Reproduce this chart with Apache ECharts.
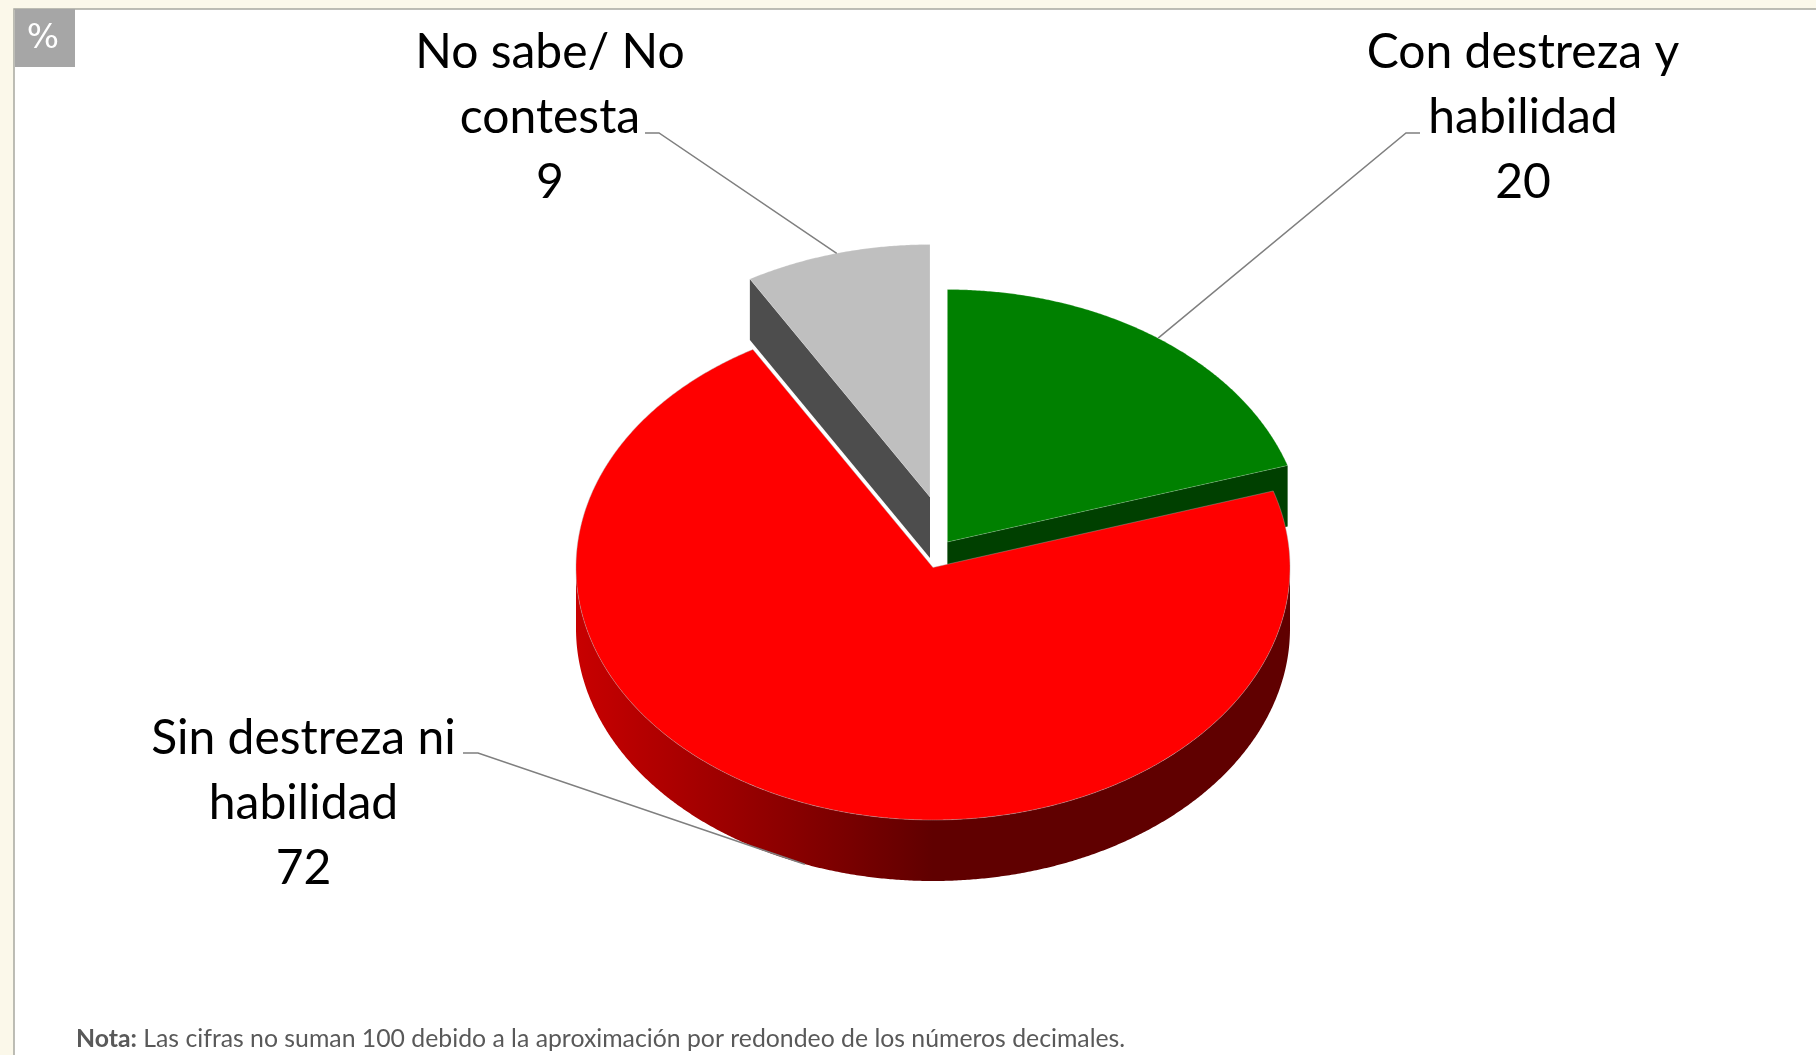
<!DOCTYPE html>
<html><head><meta charset="utf-8">
<style>html,body{margin:0;padding:0;background:#fbf8ea}#c{width:1816px;height:1055px}</style>
<script src="https://cdn.jsdelivr.net/npm/echarts@6/dist/echarts.min.js"></script>
</head><body><div id="c"></div>
<script>
const categories = ['Con destreza y\nhabilidad', 'Sin destreza ni\nhabilidad', 'No sabe/ No\ncontesta'];
// slice sizes; the labels show them rounded (20, 72, 9)
const values = [20.3, 72.2, 8.5];
const noteLead = 'Nota:';
const noteBody = ' Las cifras no suman 100 debido a la aproximación por redondeo de los números decimales.';
const unitTag = '%';

const topColors = ['#008000', '#ff0000', '#bfbfbf'];
const sideColors = ['#004000', '#600000', '#4d4d4d'];
const centers = [[947.4, 542], [933, 567.5], [930, 497]];
const stackOrder = [2, 3, 1];
const labelPos = [[1523, 118], [303.5, 804], [550, 118]];
const elbows = [[[1420, 133], [1406, 133]], [[463, 753], [478, 753]], [[645, 133], [659, 133]]];
const RX = 357, RY = 252.5, DEPTH = 61;
const LABEL_FONT = 'Lato, Carlito, sans-serif';

const total = values.reduce((a, b) => a + b, 0);
const startOf = i => values.slice(0, i).reduce((a, b) => a + b, 0) / total * 2 * Math.PI;
const pt = (c, a, dy) => [c[0] + RX * Math.sin(a), c[1] - RY * Math.cos(a) + (dy || 0)];
const arc = (c, a0, a1, dy) => {
  const n = Math.max(2, Math.ceil((a1 - a0) / 0.006)), out = [];
  for (let k = 0; k <= n; k++) out.push(pt(c, a0 + (a1 - a0) * k / n, dy));
  return out;
};

function renderItem(params, api) {
  const i = params.dataIndex, v = api.value(0);
  const a0 = startOf(i), a1 = a0 + v / total * 2 * Math.PI;
  const c = centers[i], z = stackOrder[i] * 10;
  const kids = [];
  const wall0 = Math.max(a0, Math.PI / 2), wall1 = Math.min(a1, 1.5 * Math.PI);
  if (i !== 1) {
    const e = i === 0 ? a1 : a0;
    const p = pt(c, e), q = pt(c, e, DEPTH);
    kids.push({ type: 'polygon', z2: z, shape: { points: [c, p, q, [c[0], c[1] + DEPTH]] },
      style: { fill: sideColors[i], stroke: null } });
  }
  if (wall1 > wall0) {
    const pts = arc(c, wall0, wall1, 0).concat(arc(c, wall0, wall1, DEPTH).reverse());
    kids.push({ type: 'polygon', z2: z + 1, shape: { points: pts },
      style: { stroke: null, fill: new echarts.graphic.LinearGradient(0, 0, 1, 0, [
        { offset: 0, color: '#c80000' }, { offset: 0.5, color: '#600000' }, { offset: 1, color: '#600000' }
      ]) } });
  }
  kids.push({ type: 'polygon', z2: z + 2, shape: { points: [c].concat(arc(c, a0, a1)) },
    style: { fill: topColors[i], stroke: i === 1 ? 'rgba(170,170,170,0.7)' : 'rgba(255,255,255,0.35)', lineWidth: 0.6 } });
  const mid = (a0 + a1) / 2;
  const anchor = pt(c, mid, i === 1 ? DEPTH : 0);
  kids.push({ type: 'polyline', z2: i === 1 ? 35 : 40, shape: { points: elbows[i].concat([anchor]) },
    style: { fill: null, stroke: '#7f7f7f', lineWidth: 1.5 } });
  kids.push({ type: 'text', z2: 50, x: labelPos[i][0], y: labelPos[i][1],
    style: { text: categories[i] + '\n' + Math.round(v), align: 'center', verticalAlign: 'middle',
      font: '48px ' + LABEL_FONT, lineHeight: 65, fill: '#000' } });
  return { type: 'group', children: kids };
}

const chart = echarts.init(document.getElementById('c'), null, { renderer: 'canvas' });
chart.setOption({
  animation: false,
  backgroundColor: '#fbf8ea',
  graphic: [
    { type: 'rect', z: -5, shape: { x: 14, y: 9, width: 1810, height: 1060 },
      style: { fill: '#fff', stroke: '#a8a8a0', lineWidth: 1.5 }, silent: true },
    { type: 'rect', z: -4, shape: { x: 15, y: 9, width: 60, height: 58 }, style: { fill: '#a6a6a6' }, silent: true },
    { type: 'text', z: -3, x: 43, y: 39, style: { text: unitTag, align: 'center', verticalAlign: 'middle',
        font: '34px "DejaVu Sans", sans-serif', fill: '#fff' }, silent: true },
    { type: 'text', z: -3, x: 76, y: 1039, silent: true, style: {
        text: '{b|' + noteLead + '}{n|' + noteBody + '}', verticalAlign: 'middle',
        rich: { b: { font: 'bold 24.8px ' + LABEL_FONT, fill: '#595959' }, n: { font: '24.8px ' + LABEL_FONT, fill: '#595959' } } } }
  ],
  series: [{
    type: 'custom', coordinateSystem: 'none', silent: true,
    renderItem, data: values.map(v => [v])
  }]
});
</script></body></html>
